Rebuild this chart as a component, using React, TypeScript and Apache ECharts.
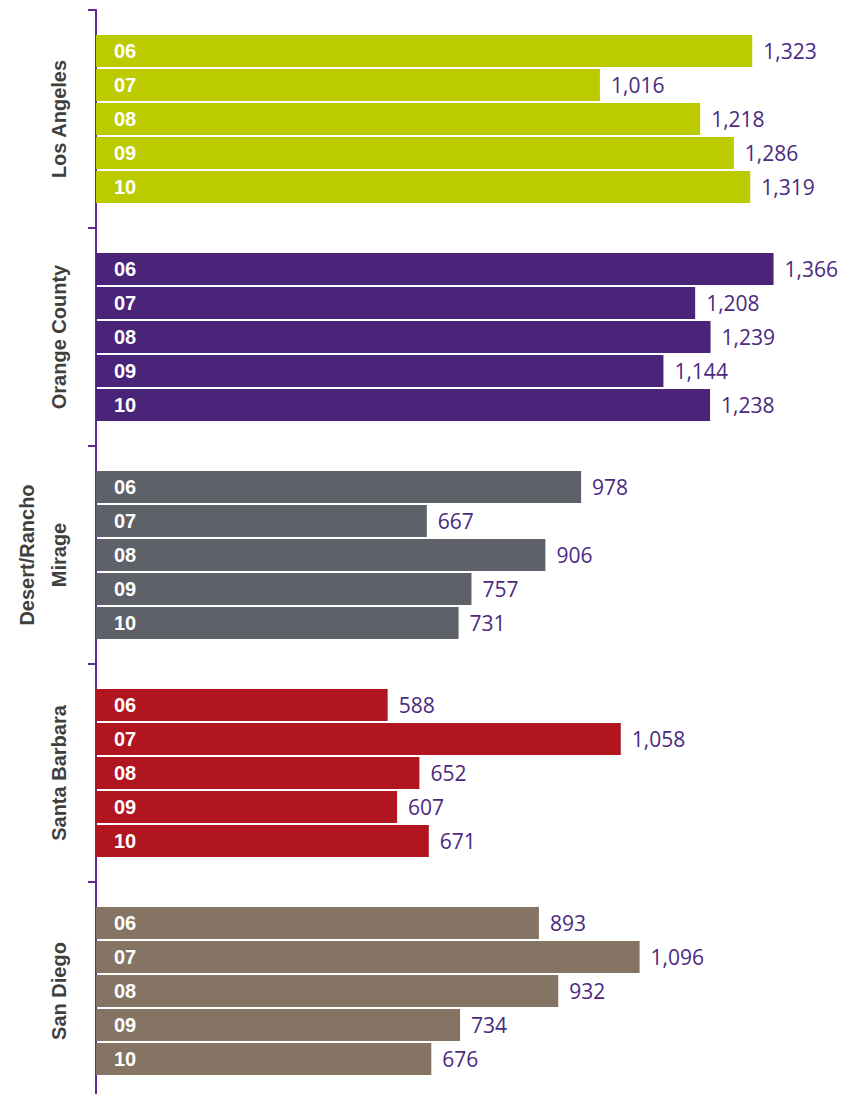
import React, { useEffect, useRef } from "react";
import * as echarts from "echarts";

const groups = ["Los Angeles", "Orange County", "Desert/Rancho\nMirage", "Santa Barbara", "San Diego"];
const years = ["06", "07", "08", "09", "10"];
const values06 = [1323, 1366, 978, 588, 893];
const values07 = [1016, 1208, 667, 1058, 1096];
const values08 = [1218, 1239, 906, 652, 932];
const values09 = [1286, 1144, 757, 607, 734];
const values10 = [1319, 1238, 731, 671, 676];
const valuesByYear = [values06, values07, values08, values09, values10];
const groupColors = ["#BCCB00", "#4A2479", "#5E6167", "#B01520", "#857464"];

const AXIS_COLOR = "#5A2D8F";
const LABEL_PURPLE = "#4B2A80";

export default function App() {
  const ref = useRef<HTMLDivElement>(null);
  useEffect(() => {
    if (!ref.current) return;
    const chart = echarts.init(ref.current, undefined, { renderer: "svg" });
    const series: any[] = [];
    years.forEach((yr, i) => {
      const vals = valuesByYear[i];
      series.push({
        name: yr,
        type: "bar",
        stack: "s" + yr,
        barWidth: 32,
        barGap: "6.25%",
        data: vals,
        itemStyle: {
          color: (p: any) => groupColors[p.dataIndex],
        },
        label: {
          show: true,
          position: "insideLeft",
          distance: 18,
          formatter: () => yr,
          color: "#ffffff",
          fontFamily: "Liberation Sans",
          fontWeight: "bold",
          fontSize: 20,
        },
      });
      series.push({
        name: yr + "v",
        type: "bar",
        stack: "s" + yr,
        barWidth: 32,
        barGap: "6.25%",
        data: vals.map(() => 0),
        itemStyle: { color: "rgba(0,0,0,0)" },
        label: {
          show: true,
          position: "right",
          distance: 11,
          formatter: (p: any) => vals[p.dataIndex].toLocaleString("en-US"),
          color: LABEL_PURPLE,
          fontFamily: "Open Sans",
          fontSize: 21,
        },
      });
    });
    chart.setOption({
      animation: false,
      grid: { left: 96, right: 14, top: 10, bottom: 0 },
      xAxis: { type: "value", min: 0, max: 1500, show: false },
      yAxis: {
        type: "category",
        inverse: true,
        data: groups,
        axisLine: { show: true, lineStyle: { color: AXIS_COLOR, width: 2 } },
        axisTick: { show: true, inside: false, length: 8, lineStyle: { color: AXIS_COLOR, width: 2 } },
        splitLine: { show: false },
        axisLabel: {
          rotate: 90,
          margin: 21,
          fontFamily: "Liberation Sans",
          fontWeight: "bold",
          fontSize: 20,
          lineHeight: 32,
          color: "#3F3F3F",
        },
      },
      series,
    });
    return () => chart.dispose();
  }, []);
  return (
    <div style={{ position: "fixed", left: 0, top: 0, width: 854, height: 1094, overflow: "hidden", background: "#fff" }}>
      <div ref={ref} style={{ width: 854, height: 1100 }} />
    </div>
  );
}
